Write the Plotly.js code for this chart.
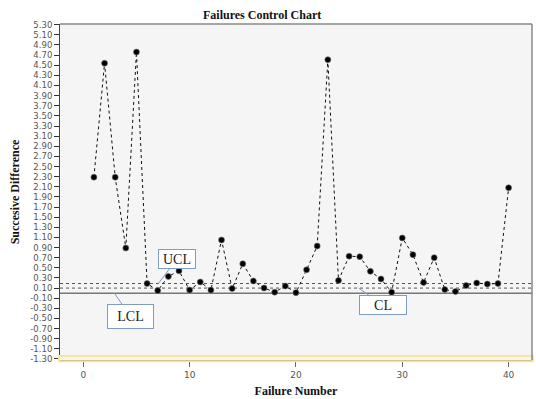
<!DOCTYPE html>
<html>
<head>
<meta charset="utf-8">
<script src="https://cdn.plot.ly/plotly-3.0.1.min.js"></script>
<style>html,body{margin:0;padding:0;background:#fff;}#chart{width:536px;height:399px;}</style>
</head>
<body>
<div id="chart"></div>
<script>
const failureNumber = [1,2,3,4,5,6,7,8,9,10,11,12,13,14,15,16,17,18,19,20,21,22,23,24,25,26,27,28,29,30,31,32,33,34,35,36,37,38,39,40];
const successiveDiff = [2.29,4.54,2.29,0.89,4.76,0.19,0.05,0.33,0.44,0.06,0.22,0.06,1.05,0.09,0.58,0.24,0.10,0.02,0.14,0.01,
                        0.46,0.93,4.61,0.25,0.73,0.72,0.43,0.28,0.02,1.09,0.76,0.21,0.70,0.07,0.03,0.15,0.20,0.18,0.19,2.08];
const limitNames = ['UCL','CL','LCL'];
const limitValues = [0.19, 0.10, 0.0];
const yTickVals = [5.3,5.1,4.9,4.7,4.5,4.3,4.1,3.9,3.7,3.5,3.3,3.1,2.9,2.7,2.5,2.3,2.1,1.9,1.7,1.5,1.3,1.1,0.9,0.7,0.5,0.3,0.1,-0.1,-0.3,-0.5,-0.7,-0.9,-1.1,-1.3];
const yTickText = ['5.30','5.10','4.90','4.70','4.50','4.30','4.10','3.90','3.70','3.50','3.30','3.10','2.90','2.70','2.50','2.30','2.10','1.90','1.70','1.50','1.30','1.10','0.90','0.70','0.50','0.30','0.10','-0.10','-0.30','-0.50','-0.70','-0.90','-1.10','-1.30'];
const xTickVals = [0,10,20,30,40];

const limitStyle = {UCL:{dash:'dot',color:'#555',width:1}, CL:{dash:'dot',color:'#555',width:1}, LCL:{dash:'solid',color:'#777',width:1.5}};

const shapes = limitNames.map((n,i)=>({
  type:'line', xref:'paper', x0:0, x1:1, yref:'y', y0:limitValues[i], y1:limitValues[i],
  line:limitStyle[n], layer:'below'
}));
shapes.push({type:'rect', xref:'paper', yref:'paper', x0:-0.002, x1:1.002, y0:-0.004, y1:0.012,
  line:{color:'#f6e49a', width:2}, fillcolor:'rgba(0,0,0,0)'});
shapes.push({type:'line', xref:'paper', yref:'paper', x0:0, x1:1, y0:1, y1:1, line:{color:'#888', width:1.5}});
shapes.push({type:'line', xref:'paper', yref:'paper', x0:1, x1:1, y0:0, y1:1, line:{color:'#888', width:1.5}});

const calloutTip = {UCL:[7.06,0.19], CL:[25.9,0.10], LCL:[2.92,0.0]};
const calloutOffset = {UCL:[19,-25], CL:[24,17], LCL:[16,23]};
const calloutSize = {UCL:[34,16], CL:[44,16], LCL:[43,21]};
const annotations = limitNames.map(n=>({
  x:calloutTip[n][0], y:calloutTip[n][1], xref:'x', yref:'y',
  text:n, showarrow:true, arrowhead:0, arrowwidth:1, arrowcolor:'#7f9cc4',
  ax:calloutOffset[n][0], ay:calloutOffset[n][1],
  width:calloutSize[n][0], height:calloutSize[n][1], align:'center', valign:'middle',
  bgcolor:'#ffffff', bordercolor:'#7f9cc4', borderwidth:1, borderpad:1,
  font:{family:'Liberation Serif, Times New Roman, serif', size:14, color:'#222'}
}));

const trace = {
  x: failureNumber, y: successiveDiff, type:'scatter', mode:'lines+markers',
  line:{color:'#111', width:1, dash:'dot'},
  marker:{color:'#000', size:6, line:{color:'rgba(120,120,120,0.6)', width:1}},
  hoverinfo:'none', showlegend:false
};

const layout = {
  width:536, height:399,
  margin:{l:60, r:4, t:24, b:39},
  paper_bgcolor:'#ffffff', plot_bgcolor:'#f5f5f5',
  title:{text:'<b>Failures Control Chart</b>', xref:'container', x:0.489, xanchor:'center',
         yref:'container', y:0.962, yanchor:'middle',
         font:{family:'Liberation Serif, Times New Roman, serif', size:12, color:'#111'}},
  xaxis:{range:[-2.19,42.2], tickvals:xTickVals, ticks:'outside', ticklen:5, tickcolor:'#666',
         showgrid:false, zeroline:false, showline:true, linecolor:'#666', linewidth:2, mirror:false,
         tickfont:{family:'DejaVu Sans, sans-serif', size:9, color:'#555'},
         title:{text:'<b>Failure Number</b>', standoff:8,
                font:{family:'Liberation Serif, Times New Roman, serif', size:12, color:'#111'}}},
  yaxis:{range:[-1.32,5.314], tickvals:yTickVals, ticktext:yTickText, ticks:'outside', ticklen:5, tickcolor:'#333',
         showgrid:false, zeroline:false, showline:true, linecolor:'#444', linewidth:1, mirror:false,
         tickfont:{family:'DejaVu Sans, sans-serif', size:8.5, color:'#555'},
         title:{text:'<b>Succesive Difference</b>', standoff:8,
                font:{family:'Liberation Serif, Times New Roman, serif', size:12, color:'#111'}}},
  shapes: shapes,
  annotations: annotations
};

Plotly.newPlot('chart', [trace], layout, {staticPlot:true, displayModeBar:false});
</script>
</body>
</html>
